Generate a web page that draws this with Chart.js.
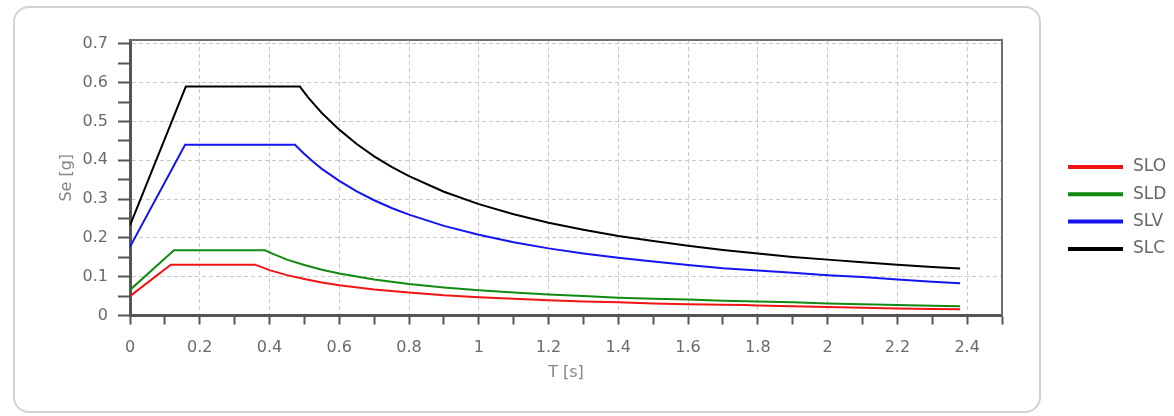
<!DOCTYPE html>
<html>
<head>
<meta charset="utf-8">
<script src="https://cdn.jsdelivr.net/npm/chart.js@4.4.1/dist/chart.umd.min.js"></script>
<style>
    html, body { margin: 0; padding: 0; background: #ffffff; }
    #wrap { position: relative; width: 1174px; height: 416px; }
    #card {
        position: absolute; left: 13px; top: 6px; width: 1028px; height: 407px;
        box-sizing: border-box; border: 2px solid #d2d2d2; border-radius: 16px;
    }
    #canvas { position: absolute; left: 0; top: 0; }
</style>
</head>
<body>
<div id="wrap">
    <div id="card"></div>
    <canvas id="canvas" width="1174" height="416"></canvas>
</div>
<script>
// periodo T [s] e accelerazione spettrale Se [g] per ogni stato limite
const tSLO = [0, 0.117, 0.358, 0.38, 0.4, 0.45, 0.5, 0.55, 0.6, 0.7, 0.8, 0.9, 1.0, 1.1, 1.2, 1.3, 1.4, 1.5, 1.6, 1.7, 1.76, 1.8, 1.9, 2.0, 2.1, 2.2, 2.3, 2.38];
const seSLO = [0.05, 0.131, 0.131, 0.124, 0.117, 0.104, 0.094, 0.085, 0.078, 0.067, 0.059, 0.052, 0.047, 0.043, 0.039, 0.036, 0.034, 0.031, 0.029, 0.028, 0.027, 0.026, 0.024, 0.022, 0.020, 0.018, 0.017, 0.016];

const tSLD = [0, 0.126, 0.387, 0.41, 0.45, 0.5, 0.55, 0.6, 0.7, 0.8, 0.9, 1.0, 1.1, 1.2, 1.3, 1.4, 1.5, 1.6, 1.7, 1.8, 1.9, 2.0, 2.1, 2.2, 2.3, 2.38];
const seSLD = [0.066, 0.168, 0.168, 0.159, 0.144, 0.130, 0.118, 0.108, 0.093, 0.081, 0.072, 0.065, 0.059, 0.054, 0.050, 0.046, 0.043, 0.041, 0.038, 0.036, 0.034, 0.031, 0.029, 0.027, 0.025, 0.024];

const tSLV = [0, 0.158, 0.473, 0.5, 0.525, 0.55, 0.6, 0.65, 0.7, 0.75, 0.8, 0.9, 1.0, 1.1, 1.2, 1.3, 1.4, 1.5, 1.6, 1.7, 1.8, 1.9, 2.0, 2.1, 2.2, 2.3, 2.38];
const seSLV = [0.177, 0.44, 0.44, 0.416, 0.396, 0.378, 0.347, 0.320, 0.297, 0.277, 0.260, 0.231, 0.208, 0.189, 0.173, 0.160, 0.149, 0.139, 0.130, 0.122, 0.116, 0.110, 0.104, 0.099, 0.093, 0.087, 0.083];

const tSLC = [0, 0.16, 0.487, 0.51, 0.53, 0.55, 0.6, 0.65, 0.7, 0.75, 0.8, 0.9, 1.0, 1.1, 1.2, 1.3, 1.4, 1.5, 1.6, 1.7, 1.8, 1.9, 2.0, 2.1, 2.2, 2.3, 2.38];
const seSLC = [0.232, 0.59, 0.59, 0.563, 0.542, 0.522, 0.479, 0.442, 0.410, 0.383, 0.359, 0.319, 0.287, 0.261, 0.239, 0.221, 0.205, 0.192, 0.180, 0.169, 0.160, 0.151, 0.144, 0.137, 0.131, 0.125, 0.121];

const seriesNames = ["SLO", "SLD", "SLV", "SLC"];
const seriesColors = ["#f01414", "#118a11", "#1414f0", "#000000"];

// tacche: principali con etichetta, secondarie solo segno
const xTicks = [0, 0.1, 0.2, 0.3, 0.4, 0.5, 0.6, 0.7, 0.8, 0.9, 1, 1.1, 1.2, 1.3, 1.4, 1.5, 1.6, 1.7, 1.8, 1.9, 2, 2.1, 2.2, 2.3, 2.4, 2.5];
const xLabels = ["0", "", "0.2", "", "0.4", "", "0.6", "", "0.8", "", "1", "", "1.2", "", "1.4", "", "1.6", "", "1.8", "", "2", "", "2.2", "", "2.4", ""];
const yTicks = [0, 0.05, 0.1, 0.15, 0.2, 0.25, 0.3, 0.35, 0.4, 0.45, 0.5, 0.55, 0.6, 0.65, 0.7];
const yLabels = ["0", "", "0.1", "", "0.2", "", "0.3", "", "0.4", "", "0.5", "", "0.6", "", "0.7"];

const toPoints = (ts, vs) => ts.map((t, i) => ({ x: t, y: vs[i] }));
const seriesData = [toPoints(tSLO, seSLO), toPoints(tSLD, seSLD), toPoints(tSLV, seSLV), toPoints(tSLC, seSLC)];

const tickColor = "#6a6a6a";
const axisColor = "#555555";
const gridColor = "#c9c9c9";

// cornice sopra e a destra dell'area del grafico
const framePlugin = {
    id: "frame",
    afterDraw(chart) {
        const { ctx, chartArea: a } = chart;
        ctx.save();
        ctx.strokeStyle = "#707070";
        ctx.lineWidth = 2;
        ctx.beginPath();
        ctx.moveTo(a.left, a.top);
        ctx.lineTo(a.right, a.top);
        ctx.lineTo(a.right, a.bottom);
        ctx.stroke();
        ctx.restore();
    }
};

// legenda a destra, fuori dal riquadro
const sideLegend = {
    id: "sideLegend",
    afterDraw(chart) {
        const ctx = chart.ctx;
        ctx.save();
        ctx.font = "17px 'DejaVu Sans'";
        ctx.textBaseline = "middle";
        chart.data.datasets.forEach((ds, i) => {
            const y = 167 + i * 27.3;
            ctx.strokeStyle = ds.borderColor;
            ctx.lineWidth = 4;
            ctx.beginPath();
            ctx.moveTo(1068, y);
            ctx.lineTo(1123, y);
            ctx.stroke();
            ctx.fillStyle = "#666666";
            ctx.fillText(ds.label, 1133, y);
        });
        ctx.restore();
    }
};

const gridFor = (majors) => (c) => (c.tick && majors.includes(Math.round(c.tick.value * 100) / 100)) ? gridColor : "rgba(0,0,0,0)";

const ctx = document.getElementById("canvas").getContext("2d");
new Chart(ctx, {
    type: "line",
    data: {
        datasets: seriesData.map((pts, i) => ({
            label: seriesNames[i],
            data: pts,
            borderColor: seriesColors[i],
            backgroundColor: seriesColors[i],
            borderWidth: 2,
            pointRadius: 0,
            tension: 0,
            fill: false
        }))
    },
    options: {
        responsive: false,
        animation: false,
        layout: { padding: { left: 53, top: 40, right: 172, bottom: 30 } },
        plugins: { legend: { display: false }, tooltip: { enabled: false } },
        scales: {
            x: {
                type: "linear",
                min: 0,
                max: 2.5,
                afterBuildTicks: (s) => { s.ticks = xTicks.map(v => ({ value: v })); },
                afterFit: (s) => { s.height = 70.5; },
                ticks: {
                    autoSkip: false,
                    maxRotation: 0,
                    padding: 14,
                    color: tickColor,
                    font: { family: "DejaVu Sans", size: 16 },
                    callback: (v, i) => xLabels[i]
                },
                grid: {
                    color: gridFor([0.2, 0.4, 0.6, 0.8, 1, 1.2, 1.4, 1.6, 1.8, 2, 2.2, 2.4]),
                    tickColor: axisColor,
                    tickLength: 9,
                    tickWidth: 2,
                    lineWidth: 1
                },
                border: { color: axisColor, width: 3, dash: [4, 3] },
                title: {
                    display: true,
                    text: "T [s]",
                    color: "#858585",
                    font: { family: "DejaVu Sans", size: 16 }
                }
            },
            y: {
                type: "linear",
                min: 0,
                max: 0.71,
                afterBuildTicks: (s) => { s.ticks = yTicks.map(v => ({ value: v })); },
                afterFit: (s) => { s.width = 77; },
                ticks: {
                    autoSkip: false,
                    padding: 10,
                    color: tickColor,
                    font: { family: "DejaVu Sans", size: 16 },
                    callback: (v, i) => yLabels[i]
                },
                grid: {
                    color: gridFor([0.1, 0.2, 0.3, 0.4, 0.5, 0.6, 0.7]),
                    tickColor: axisColor,
                    tickLength: 12,
                    tickWidth: 2,
                    lineWidth: 1
                },
                border: { color: axisColor, width: 3, dash: [4, 3] },
                title: {
                    display: true,
                    text: "Se [g]",
                    color: "#858585",
                    font: { family: "DejaVu Sans", size: 16 }
                }
            }
        }
    },
    plugins: [framePlugin, sideLegend]
});
</script>
</body>
</html>
